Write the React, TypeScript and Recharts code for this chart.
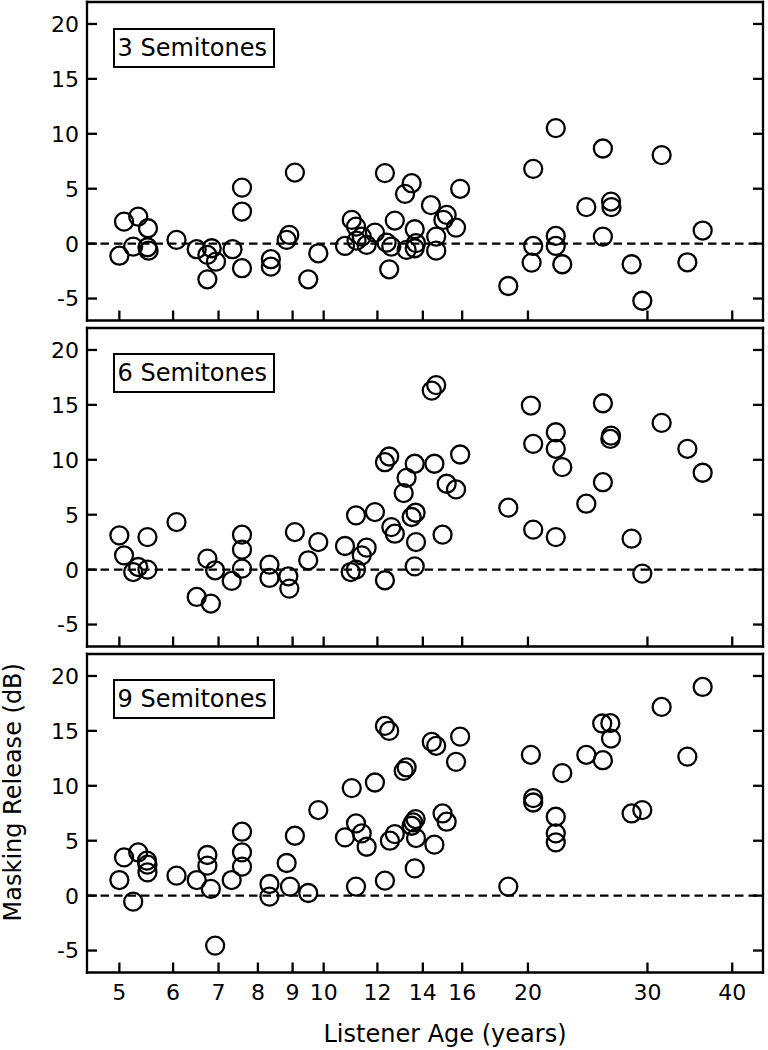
import { Label, ReferenceLine, Scatter, ScatterChart, XAxis, YAxis } from 'recharts'

// Listener ages (years) and masking release (dB), one pair of arrays per panel
const ages3 = [
  5.0, 5.08, 5.24, 5.33, 5.51, 5.5, 5.52, 6.07, 6.5, 6.74, 6.84, 6.94, 6.74, 7.34, 7.58, 7.58, 7.58,
  8.36, 8.36, 8.82, 8.9, 9.07, 9.49, 9.82, 10.75, 11.0, 11.16, 11.18, 11.38, 11.57, 11.9, 12.31,
  12.38, 12.49, 12.73, 12.58, 13.48, 13.18, 14.39, 15.18, 15.01, 15.67, 15.89, 13.62, 13.68, 13.62,
  13.25, 14.65, 14.65, 18.71, 20.36, 20.36, 20.25, 21.98, 21.98, 21.98, 22.47, 24.38, 25.79, 25.79,
  26.51, 26.55, 28.43, 29.48, 31.48, 34.35, 36.18,
]
const release3 = [
  -1.1, 2.0, -0.27, 2.46, 1.4, -0.33, -0.64, 0.34, -0.51, -1.03, -0.42, -1.64, -3.25, -0.51, 5.1, 2.92,
  -2.24, -1.42, -2.1, 0.34, 0.8, 6.47, -3.25, -0.88, -0.21, 2.16, 1.55, 0.27, 0.64, -0.12, 1.0, 6.42,
  0.09, -2.34, 2.1, -0.27, 5.5, 4.53, 3.5, 2.62, 2.16, 1.46, 4.99, 1.31, 0.04, -0.42, -0.57, 0.64,
  -0.64, -3.86, 6.81, -0.21, -1.73, 10.52, 0.7, -0.21, -1.88, 3.32, 8.66, 0.64, 3.83, 3.32, -1.88,
  -5.2, 8.06, -1.7, 1.19,
]

const ages6 = [
  5.0, 5.08, 5.24, 5.33, 5.5, 5.5, 6.07, 6.5, 6.82, 6.74, 6.92, 7.32, 7.58, 7.58, 7.58, 8.32, 8.32,
  8.87, 8.9, 9.07, 9.49, 9.82, 10.75, 10.96, 11.16, 11.16, 11.38, 11.57, 11.9, 12.31, 12.49, 12.31,
  12.58, 12.73, 13.62, 13.25, 13.12, 13.66, 13.48, 13.68, 13.62, 14.56, 14.43, 14.65, 15.18, 15.67,
  15.89, 14.97, 18.71, 20.2, 20.36, 20.36, 21.98, 21.98, 22.47, 21.98, 24.38, 25.79, 25.79, 26.51,
  26.45, 28.43, 29.48, 31.48, 34.35, 36.18,
]
const release6 = [
  3.12, 1.3, -0.22, 0.24, 2.96, 0.0, 4.33, -2.49, -3.09, 1.0, -0.06, -1.03, 3.18, 1.82, 0.09, 0.45,
  -0.76, -0.61, -1.73, 3.42, 0.85, 2.51, 2.15, -0.22, 4.94, 0.0, 1.3, 2.0, 5.24, 9.78, 10.3, -0.97,
  3.87, 3.27, 9.64, 8.36, 6.97, 5.18, 4.79, 2.51, 0.3, 9.64, 16.3, 16.8, 7.82, 7.3, 10.48, 3.18, 5.64,
  14.94, 11.45, 3.64, 12.51, 11.0, 9.33, 2.96, 6.0, 15.15, 7.96, 12.2, 11.9, 2.82, -0.36, 13.36, 11.0,
  8.82,
]

const ages9 = [
  5.0, 5.08, 5.24, 5.33, 5.49, 5.5, 5.5, 6.07, 6.5, 6.74, 6.74, 6.82, 6.92, 7.32, 7.58, 7.58, 7.58,
  8.32, 8.32, 8.82, 8.92, 9.07, 9.49, 9.82, 10.75, 11.0, 11.16, 11.16, 11.38, 11.57, 11.9, 12.31,
  12.49, 12.31, 12.52, 12.73, 13.12, 13.25, 13.55, 13.66, 13.48, 13.68, 13.62, 14.56, 14.43, 14.65,
  14.97, 15.18, 15.67, 15.89, 18.71, 20.2, 20.36, 20.36, 21.98, 21.98, 21.98, 22.47, 24.38, 25.73,
  25.79, 26.45, 26.51, 28.43, 29.48, 31.48, 34.35, 36.18,
]
const release9 = [
  1.42, 3.48, -0.55, 3.94, 3.18, 2.82, 2.12, 1.82, 1.42, 3.7, 2.73, 0.61, -4.55, 1.42, 5.82, 3.94,
  2.64, 1.06, -0.09, 2.97, 0.82, 5.45, 0.24, 7.79, 5.3, 9.79, 6.58, 0.82, 5.67, 4.45, 10.3, 15.45,
  15.0, 1.36, 5.0, 5.6, 11.36, 11.67, 6.67, 6.97, 6.36, 5.24, 2.48, 4.64, 14.0, 13.64, 7.48, 6.73,
  12.18, 14.48, 0.82, 12.82, 8.88, 8.48, 7.18, 5.67, 4.85, 11.15, 12.82, 15.67, 12.33, 15.7, 14.3,
  7.48, 7.79, 17.18, 12.66, 19.0,
]

const ageTicks = [5, 6, 7, 8, 9, 10, 12, 14, 16, 20, 30, 40]
const releaseTicks = [-5, 0, 5, 10, 15, 20]

const FONT = '"DejaVu Sans", sans-serif'
const TICK_LEN = 10
const STROKE = 2.3
const PLOT_H = 318.5
const axisLine = { stroke: '#000', strokeWidth: STROKE, strokeLinecap: 'square' as const }

// ticks point into the plot on every side; only the left and bottom carry labels
const BottomTick = ({ x, y, payload, showLabel }: any) => (
  <g>
    <line x1={x} x2={x} y1={y} y2={y - TICK_LEN} stroke="#000" strokeWidth={STROKE} />
    {showLabel && (
      <text x={x} y={y + 27.5} textAnchor="middle" fontSize={22} fontFamily={FONT} fill="#000">
        {payload.value}
      </text>
    )}
  </g>
)

const TopTick = ({ x, y }: any) => (
  <line x1={x} x2={x} y1={y} y2={y + TICK_LEN} stroke="#000" strokeWidth={STROKE} />
)

const LeftTick = ({ x, y, payload }: any) => (
  <g>
    <line x1={x} x2={x + TICK_LEN} y1={y} y2={y} stroke="#000" strokeWidth={STROKE} />
    <text x={x - 8} y={y} dy="0.36em" textAnchor="end" fontSize={22} fontFamily={FONT} fill="#000">
      {payload.value}
    </text>
  </g>
)

const RightTick = ({ x, y }: any) => (
  <line x1={x} x2={x - TICK_LEN} y1={y} y2={y} stroke="#000" strokeWidth={STROKE} />
)

const OpenCircle = ({ cx, cy }: any) => (
  <circle cx={cx} cy={cy} r={9} fill="none" stroke="#000" strokeWidth={STROKE} />
)

function ReleasePanel({
  label,
  ages,
  release,
  top,
  last,
}: {
  label: string
  ages: number[]
  release: number[]
  top: number
  last?: boolean
}) {
  const data = ages.map((age, i) => ({ age, release: release[i] }))
  const height = last ? 1050 - top : PLOT_H + 4
  const bottom = height - 2 - PLOT_H - 1

  return (
    <div style={{ position: 'absolute', left: 0, top, width: 768, height }}>
      <ScatterChart width={768} height={height} margin={{ top: 1, right: 4, bottom, left: 0 }}>
        <XAxis
          xAxisId="bottom"
          dataKey="age"
          type="number"
          scale="log"
          domain={[4.48, 44.4]}
          allowDataOverflow
          ticks={ageTicks}
          interval={0}
          height={1}
          tickSize={0}
          tickMargin={0}
          tickLine={false}
          axisLine={axisLine}
          tick={(p: any) => <BottomTick {...p} showLabel={last} />}
        >
          {last && (
            <Label
              content={({ viewBox }: any) => (
                <text
                  x={viewBox.x + viewBox.width / 2 + 20}
                  y={viewBox.y + 69}
                  textAnchor="middle"
                  fontSize={24}
                  fontFamily={FONT}
                  fill="#000"
                >
                  Listener Age (years)
                </text>
              )}
            />
          )}
        </XAxis>
        <XAxis
          xAxisId="top"
          orientation="top"
          type="number"
          scale="log"
          domain={[4.48, 44.4]}
          allowDataOverflow
          ticks={ageTicks}
          interval={0}
          height={1}
          tickSize={0}
          tickMargin={0}
          tickLine={false}
          axisLine={axisLine}
          tick={TopTick}
        />
        <YAxis
          yAxisId="left"
          dataKey="release"
          type="number"
          domain={[-7, 22]}
          allowDataOverflow
          ticks={releaseTicks}
          interval={0}
          width={87}
          tickSize={0}
          tickMargin={0}
          tickLine={false}
          axisLine={axisLine}
          tick={LeftTick}
        >
          {last && (
            <Label
              content={({ viewBox }: any) => {
                const cy = viewBox.y + viewBox.height / 2 - 21
                return (
                  <text
                    x={21}
                    y={cy}
                    transform={`rotate(-90 21 ${cy})`}
                    textAnchor="middle"
                    fontSize={24}
                    fontFamily={FONT}
                    fill="#000"
                  >
                    Masking Release (dB)
                  </text>
                )
              }}
            />
          )}
        </YAxis>
        <YAxis
          yAxisId="right"
          orientation="right"
          type="number"
          domain={[-7, 22]}
          allowDataOverflow
          ticks={releaseTicks}
          interval={0}
          width={1}
          tickSize={0}
          tickMargin={0}
          tickLine={false}
          axisLine={axisLine}
          tick={RightTick}
        />
        <ReferenceLine
          xAxisId="bottom"
          yAxisId="left"
          y={0}
          stroke="#000"
          strokeWidth={STROKE}
          strokeDasharray="8.5 5"
        />
        <Scatter
          xAxisId="bottom"
          yAxisId="left"
          data={data}
          shape={OpenCircle}
          isAnimationActive={false}
        />
      </ScatterChart>
      <div
        style={{
          position: 'absolute',
          left: 112.5,
          top: 27.5,
          width: 162,
          height: 40,
          boxSizing: 'border-box',
          border: '2px solid #000',
          background: '#fff',
          paddingLeft: 3,
          fontFamily: FONT,
          fontSize: 24,
          lineHeight: '36px',
          whiteSpace: 'nowrap',
        }}
      >
        {label}
      </div>
    </div>
  )
}

export default function App() {
  return (
    <div style={{ position: 'absolute', left: 0, top: 0, width: 768, height: 1050, background: '#fff' }}>
      <ReleasePanel label="3 Semitones" ages={ages3} release={release3} top={0} />
      <ReleasePanel label="6 Semitones" ages={ages6} release={release6} top={325.5} />
      <ReleasePanel label="9 Semitones" ages={ages9} release={release9} top={651.5} last />
    </div>
  )
}
